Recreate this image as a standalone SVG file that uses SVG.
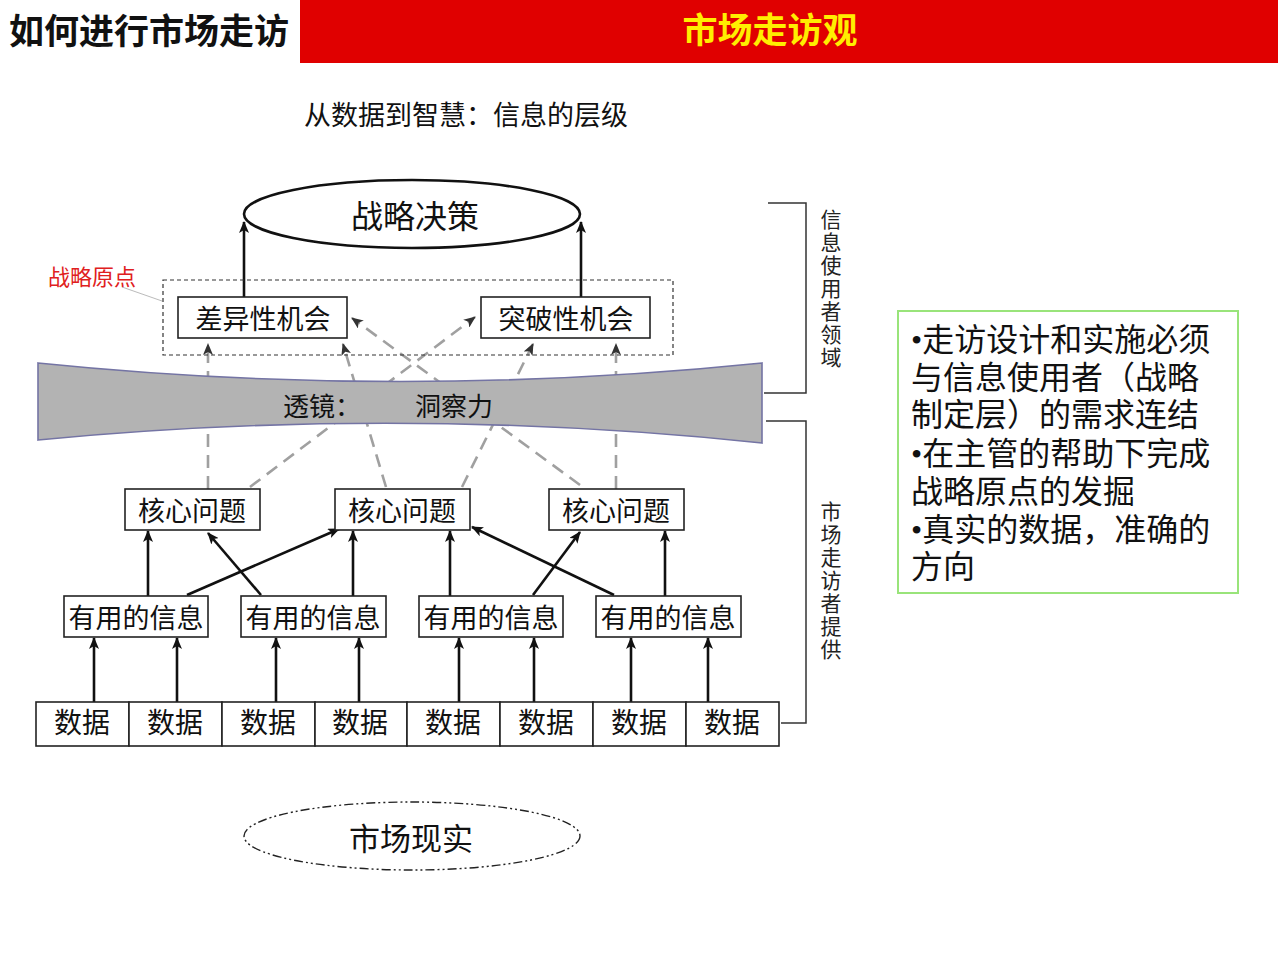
<svg xmlns="http://www.w3.org/2000/svg" width="1280" height="960" viewBox="0 0 1280 960">
<defs>
<style>
.cjk{font-family:"Noto Sans CJK SC","Noto Sans",sans-serif;}
.box{fill:#fff;stroke:#222;stroke-width:1.6;}
.lbl{font-family:"Noto Sans CJK SC","Noto Sans",sans-serif;fill:#111;text-anchor:middle;dominant-baseline:central;}
.solid{stroke:#111;stroke-width:2.6;fill:none;marker-end:url(#ah);}
.dash{stroke:#a0a0a0;stroke-width:2.6;fill:none;stroke-dasharray:13 8;marker-end:url(#ahg);}
.side{font-family:"Noto Sans CJK SC","Noto Sans",sans-serif;font-size:21px;fill:#222;writing-mode:vertical-rl;letter-spacing:2px;}
.note{font-family:"Noto Sans CJK SC","Noto Sans",sans-serif;font-size:32px;fill:#111;}
.brk{stroke:#333;stroke-width:1.5;fill:none;}
</style>
<marker id="ah" markerUnits="userSpaceOnUse" viewBox="0 0 12 10" markerWidth="12" markerHeight="10" refX="11" refY="5" orient="auto">
<path d="M0,0 L12,5 L0,10 L3,5 z" fill="#111"/>
</marker>
<marker id="ahg" markerUnits="userSpaceOnUse" viewBox="0 0 12 10" markerWidth="12" markerHeight="10" refX="11" refY="5" orient="auto">
<path d="M0,0 L12,5 L0,10 L3,5 z" fill="#333"/>
</marker>
</defs>
<rect width="1280" height="960" fill="#fff"/>

<g id="header">
<rect x="300" y="0" width="978" height="63" fill="#e00000"/>
<text x="9" y="44" class="cjk" font-size="35" font-weight="bold" fill="#111">如何进行市场走访</text>
<text x="770" y="43" class="cjk" font-size="35" font-weight="bold" fill="#ffee00" text-anchor="middle">市场走访观</text>
</g>

<g id="subtitle">
<text x="466" y="125" class="cjk" font-size="27" fill="#111" text-anchor="middle">从数据到智慧：信息的层级</text>
</g>

<g id="connectors">
<line class="dash" x1="208" y1="489" x2="208" y2="344"/>
<line class="dash" x1="616" y1="489" x2="616" y2="344"/>
<line class="dash" x1="250" y1="487" x2="475" y2="317"/>
<line class="dash" x1="386" y1="487" x2="343" y2="344"/>
<line class="dash" x1="462" y1="487" x2="533" y2="344"/>
<line class="dash" x1="580" y1="485" x2="352" y2="318"/>

<line class="solid" x1="244" y1="297" x2="244" y2="222"/>
<line class="solid" x1="581" y1="297" x2="581" y2="222"/>

<line class="solid" x1="148" y1="596" x2="148" y2="531"/>
<line class="solid" x1="187" y1="595" x2="339" y2="529"/>
<line class="solid" x1="261" y1="595" x2="208" y2="533"/>
<line class="solid" x1="353" y1="596" x2="353" y2="531"/>
<line class="solid" x1="450" y1="596" x2="450" y2="531"/>
<line class="solid" x1="533" y1="595" x2="580" y2="532"/>
<line class="solid" x1="614" y1="595" x2="472" y2="527"/>
<line class="solid" x1="665" y1="596" x2="665" y2="531"/>

<line class="solid" x1="94" y1="702" x2="94" y2="638"/>
<line class="solid" x1="177" y1="702" x2="177" y2="638"/>
<line class="solid" x1="276" y1="702" x2="276" y2="638"/>
<line class="solid" x1="359" y1="702" x2="359" y2="638"/>
<line class="solid" x1="459" y1="702" x2="459" y2="638"/>
<line class="solid" x1="534" y1="702" x2="534" y2="638"/>
<line class="solid" x1="631" y1="702" x2="631" y2="638"/>
<line class="solid" x1="708" y1="702" x2="708" y2="638"/>

<line x1="122" y1="287" x2="162" y2="301" stroke="#bbb" stroke-width="1"/>
</g>

<g id="lens">
<path d="M38,363 Q400,400 762,363 L762,443 Q400,405 38,440 Z" fill="#b3b3b3" stroke="#7474a4" stroke-width="1.6"/>
<text x="322" y="404" class="lbl" font-size="26">透镜：</text>
<text x="454" y="404" class="lbl" font-size="26">洞察力</text>
</g>

<g id="decision">
<ellipse cx="412" cy="214" rx="168" ry="34" fill="#fff" stroke="#111" stroke-width="2.6"/>
<text x="415" y="214" class="lbl" font-size="32">战略决策</text>
</g>

<g id="origin">
<rect x="163" y="280" width="510" height="75" fill="none" stroke="#333" stroke-width="1.2" stroke-dasharray="4 3"/>
<text x="92" y="275" class="lbl" font-size="22" style="fill:#e02020">战略原点</text>
</g>

<g id="opp1"><rect class="box" x="178" y="297" width="169" height="41"/><text class="lbl" font-size="27" x="263" y="317">差异性机会</text></g>
<g id="opp2"><rect class="box" x="481" y="297" width="169" height="41"/><text class="lbl" font-size="27" x="566" y="317">突破性机会</text></g>

<g id="core1"><rect class="box" x="125" y="489" width="135" height="41"/><text class="lbl" font-size="27" x="192" y="509">核心问题</text></g>
<g id="core2"><rect class="box" x="335" y="489" width="135" height="41"/><text class="lbl" font-size="27" x="402" y="509">核心问题</text></g>
<g id="core3"><rect class="box" x="549" y="489" width="135" height="41"/><text class="lbl" font-size="27" x="616" y="509">核心问题</text></g>

<g id="info1"><rect class="box" x="64" y="596" width="144" height="41"/><text class="lbl" font-size="27" x="136" y="616">有用的信息</text></g>
<g id="info2"><rect class="box" x="241" y="596" width="145" height="41"/><text class="lbl" font-size="27" x="313" y="616">有用的信息</text></g>
<g id="info3"><rect class="box" x="419" y="596" width="144" height="41"/><text class="lbl" font-size="27" x="491" y="616">有用的信息</text></g>
<g id="info4"><rect class="box" x="596" y="596" width="145" height="41"/><text class="lbl" font-size="27" x="668" y="616">有用的信息</text></g>

<g id="data1"><rect class="box" x="36" y="702" width="93" height="44"/><text class="lbl" x="82" y="721" font-size="28">数据</text></g>
<g id="data2"><rect class="box" x="129" y="702" width="93" height="44"/><text class="lbl" x="175" y="721" font-size="28">数据</text></g>
<g id="data3"><rect class="box" x="222" y="702" width="93" height="44"/><text class="lbl" x="268" y="721" font-size="28">数据</text></g>
<g id="data4"><rect class="box" x="315" y="702" width="92" height="44"/><text class="lbl" x="360" y="721" font-size="28">数据</text></g>
<g id="data5"><rect class="box" x="407" y="702" width="93" height="44"/><text class="lbl" x="453" y="721" font-size="28">数据</text></g>
<g id="data6"><rect class="box" x="500" y="702" width="93" height="44"/><text class="lbl" x="546" y="721" font-size="28">数据</text></g>
<g id="data7"><rect class="box" x="593" y="702" width="93" height="44"/><text class="lbl" x="639" y="721" font-size="28">数据</text></g>
<g id="data8"><rect class="box" x="686" y="702" width="93" height="44"/><text class="lbl" x="732" y="721" font-size="28">数据</text></g>

<g id="reality">
<ellipse cx="412" cy="836" rx="168" ry="34" fill="#fff" stroke="#222" stroke-width="1.4" stroke-dasharray="9 3 2 3 2 3"/>
<text x="411" y="836" class="lbl" font-size="31">市场现实</text>
</g>

<g id="user-domain">
<path class="brk" d="M768,203 H806 V393 H764"/>
<text class="side" x="831" y="209">信息使用者领域</text>
</g>

<g id="visitor-domain">
<path class="brk" d="M766,421 H806 V723 H781"/>
<text class="side" x="831" y="501">市场走访者提供</text>
</g>

<g id="notes">
<rect x="898" y="311" width="340" height="282" fill="#fff" stroke="#99e47a" stroke-width="2"/>
<text class="note">
<tspan x="911" y="351"><tspan font-family="Liberation Serif, serif">•</tspan>走访设计和实施必须</tspan>
<tspan x="911" y="389">与信息使用者（战略</tspan>
<tspan x="911" y="426">制定层）的需求连结</tspan>
<tspan x="911" y="465"><tspan font-family="Liberation Serif, serif">•</tspan>在主管的帮助下完成</tspan>
<tspan x="911" y="503">战略原点的发掘</tspan>
<tspan x="911" y="541"><tspan font-family="Liberation Serif, serif">•</tspan>真实的数据，准确的</tspan>
<tspan x="911" y="578">方向</tspan>
</text>
</g>
</svg>
